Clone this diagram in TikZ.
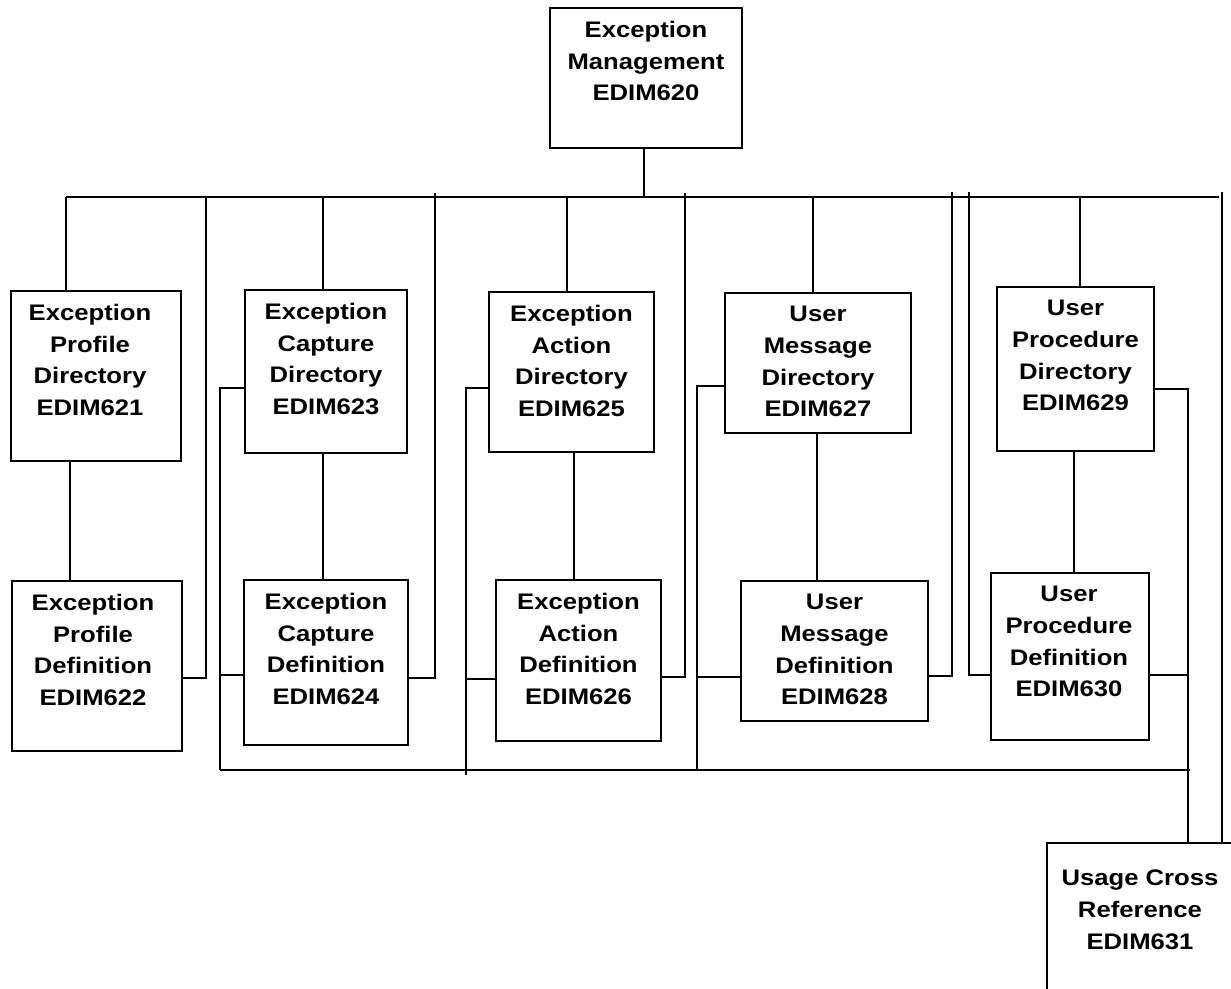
\documentclass[tikz,border=0pt]{standalone}
\usepackage{fontspec}
\newfontfamily\boxfont{Liberation Sans}[FakeStretch=1.14]
\begin{document}
\begin{tikzpicture}[x=1pt,y=-1pt,
  box/.style={draw=black, line width=1.8pt, fill=white, inner sep=0pt, outer sep=0pt, anchor=north west},
  lbl/.style={anchor=north, align=center, inner sep=0pt, font=\boxfont\bfseries\fontsize{22.5}{31.7}\selectfont},
  wire/.style={line width=1.6pt, black}]
\useasboundingbox (0,0) rectangle (1231,988);
\clip (0,0) rectangle (1231,988);
% boxes
\node[box, minimum width=192pt, minimum height=140pt] (b620) at (550,8) {};
\node[box, minimum width=170pt, minimum height=170pt] (b621) at (11,291) {};
\node[box, minimum width=170pt, minimum height=170pt] (b622) at (12,581) {};
\node[box, minimum width=162pt, minimum height=163pt] (b623) at (245,290) {};
\node[box, minimum width=164pt, minimum height=165pt] (b624) at (244,580) {};
\node[box, minimum width=165pt, minimum height=160pt] (b625) at (489,292) {};
\node[box, minimum width=165pt, minimum height=161pt] (b626) at (496,580) {};
\node[box, minimum width=186pt, minimum height=140pt] (b627) at (725,293) {};
\node[box, minimum width=187pt, minimum height=140pt] (b628) at (741,581) {};
\node[box, minimum width=157pt, minimum height=164pt] (b629) at (997,287) {};
\node[box, minimum width=158pt, minimum height=167pt] (b630) at (991,573) {};
\node[box, minimum width=210pt, minimum height=165pt] (b631) at (1047,843) {};
% labels
\node[lbl] (t620) at ([yshift=-13pt]b620.north) {Exception\\Management\\EDIM620};
\node[lbl] (t621) at ([xshift=-6pt,yshift=-13pt]b621.north) {Exception\\Profile\\Directory\\EDIM621};
\node[lbl] (t622) at ([xshift=-4pt,yshift=-13pt]b622.north) {Exception\\Profile\\Definition\\EDIM622};
\node[lbl] (t623) at ([yshift=-13pt]b623.north) {Exception\\Capture\\Directory\\EDIM623};
\node[lbl] (t624) at ([yshift=-13pt]b624.north) {Exception\\Capture\\Definition\\EDIM624};
\node[lbl] (t625) at ([yshift=-13pt]b625.north) {Exception\\Action\\Directory\\EDIM625};
\node[lbl] (t626) at ([yshift=-13pt]b626.north) {Exception\\Action\\Definition\\EDIM626};
\node[lbl] (t627) at ([yshift=-13pt]b627.north) {User\\Message\\Directory\\EDIM627};
\node[lbl] (t628) at ([yshift=-13pt]b628.north) {User\\Message\\Definition\\EDIM628};
\node[lbl] (t629) at ([yshift=-13pt]b629.north) {User\\Procedure\\Directory\\EDIM629};
\node[lbl] (t630) at ([xshift=-1pt,yshift=-13pt]b630.north) {User\\Procedure\\Definition\\EDIM630};
\node[lbl] (t631) at ([xshift=93pt,yshift=-27pt]b631.north west) {Usage Cross\\Reference\\EDIM631};
% bus coordinates
\coordinate (busL) at (66,197);
\coordinate (busR) at (1219,197);
\coordinate (botL) at (220,770);
\coordinate (botR) at (1190,770);
% top stem and bus
\draw[wire] (b620.south -| 644,0) -- (644,197);
\draw[wire] (busL) -- (busR);
% drops to directories
\draw[wire] (busL) -- (b621.north -| 66,0);
\draw[wire] (323,197) -- (b623.north -| 323,0);
\draw[wire] (567,197) -- (b625.north -| 567,0);
\draw[wire] (813,197) -- (b627.north -| 813,0);
\draw[wire] (1080,197) -- (b629.north -| 1080,0);
% drops to definitions (right side)
\draw[wire] (206,196) -- (206,678) -- (b622.east |- 0,678);
\draw[wire] (435,193) -- (435,678) -- (b624.east |- 0,678);
\draw[wire] (685,193) -- (685,677) -- (b626.east |- 0,677);
\draw[wire] (952,192) -- (952,676) -- (b628.east |- 0,676);
\draw[wire] (969,192) -- (969,675) -- (b630.west |- 0,675);
\draw[wire] (1222,192) -- (b631.north -| 1222,0);
% directory to definition
\draw[wire] (b621.south -| 70,0) -- (b622.north -| 70,0);
\draw[wire] (b623.south -| 323,0) -- (b624.north -| 323,0);
\draw[wire] (b625.south -| 574,0) -- (b626.north -| 574,0);
\draw[wire] (b627.south -| 817,0) -- (b628.north -| 817,0);
\draw[wire] (b629.south -| 1074,0) -- (b630.north -| 1074,0);
% lower bus
\draw[wire] (b623.west |- 0,388) -- (220,388) -- (botL);
\draw[wire] (b624.west |- 0,675) -- (220,675);
\draw[wire] (b625.west |- 0,388) -- (466,388) -- (466,775);
\draw[wire] (b626.west |- 0,679) -- (466,679);
\draw[wire] (b627.west |- 0,386) -- (697,386) -- (697,770);
\draw[wire] (b628.west |- 0,677) -- (697,677);
\draw[wire] (botL) -- (botR);
\draw[wire] (b629.east |- 0,389) -- (1188,389) -- (b631.north -| 1188,0);
\draw[wire] (b630.east |- 0,675) -- (1188,675);
\end{tikzpicture}
\end{document}
